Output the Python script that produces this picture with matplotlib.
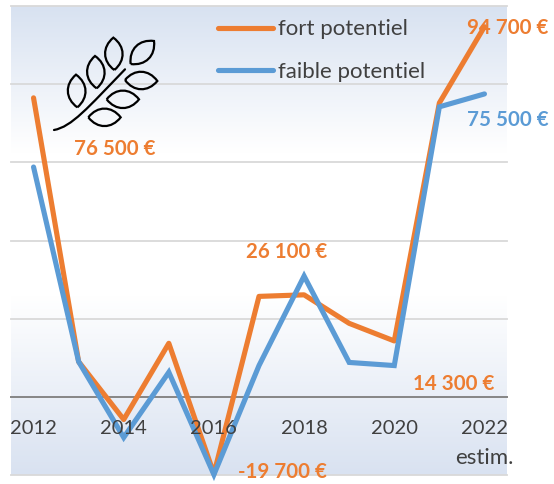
import numpy as np
import matplotlib
matplotlib.use("Agg")
import matplotlib.pyplot as plt
from matplotlib.path import Path
from matplotlib.patches import PathPatch
from matplotlib.colors import LinearSegmentedColormap

plt.rcParams['font.family'] = ['Lato', 'DejaVu Sans']

years = [2012, 2013, 2014, 2015, 2016, 2017, 2018, 2019, 2020, 2021, 2022]
fort_potentiel = [76500, 9000, -5800, 13700, -19700, 25700, 26100, 18800, 14300, 75200, 94700]
faible_potentiel = [58800, 9000, -10400, 6300, -19900, 8000, 30900, 8800, 8000, 74200, 77500]
tick_years = [2012, 2014, 2016, 2018, 2020, 2022]
tick_labels = ['2012', '2014', '2016', '2018', '2020', '2022']
y_ticks = [-20000, 0, 20000, 40000, 60000, 80000, 100000]
series_names = ['fort potentiel', 'faible potentiel']

ORANGE = '#ED7D31'
BLUE = '#5B9BD5'
W, H = 554, 484
L, R, T, B = 11, 507, 6, 475
BOLD = dict(fontweight='bold', fontsize=14.8, ha='center', va='center', annotation_clip=False)

fig = plt.figure(figsize=(W / 100, H / 100), dpi=100)
ax = fig.add_axes([L / W, 1 - B / H, (R - L) / W, (B - T) / H])

# background gradient
cmap = LinearSegmentedColormap.from_list('bg', [
    (0.0, '#D8E2F1'), (0.31, '#FFFFFF'), (0.62, '#FFFFFF'), (1.0, '#D9E2F1')])
grad = np.linspace(0, 1, 256).reshape(-1, 1)
ax.imshow(grad, cmap=cmap, aspect='auto', extent=(0, 1, 0, 1),
          transform=ax.transAxes, zorder=0, origin='upper')
ax.set_xlim(2011.5, 2022.5)
ax.set_ylim(-20000, 100000)

for s in ['top', 'left', 'right']:
    ax.spines[s].set_visible(False)
ax.spines['bottom'].set_position(('data', 0))
ax.spines['bottom'].set_color('#868686')
ax.spines['bottom'].set_linewidth(1.4)
ax.spines['bottom'].set_zorder(1.5)

ax.set_yticks(y_ticks)
ax.tick_params(axis='y', length=0, labelleft=False)
ax.grid(axis='y', color='#D9D9D9', lw=1.3, clip_on=False)
ax.set_axisbelow(True)
ax.set_xticks(tick_years, tick_labels)
ax.tick_params(axis='x', length=0, pad=17, labelsize=14.5, labelcolor='#404040')
ax.xaxis.set_zorder(6)   # year labels sit on top of the lines
ax.annotate('estim.', (2022, 0), xytext=(0, -61), textcoords='offset pixels', color='#404040',
            fontsize=16, ha='center', va='center', zorder=6, annotation_clip=False)

# label hidden partly under the line
ax.annotate('94 700 €', (2022, 94700), xytext=(23, -1.5), textcoords='offset pixels',
            color=ORANGE, zorder=2, **BOLD)

l1, = ax.plot(years, fort_potentiel, color=ORANGE, lw=3.7, zorder=3,
              solid_capstyle='round', solid_joinstyle='round', label=series_names[0], clip_on=False)
l2, = ax.plot(years, faible_potentiel, color=BLUE, lw=3.7, zorder=4,
              solid_capstyle='round', solid_joinstyle='miter', label=series_names[1], clip_on=False)

labels = [
    ('76 500 €', 2012, fort_potentiel[0], 81, -51, ORANGE),
    ('26 100 €', 2018, fort_potentiel[6], -17, 43, ORANGE),
    ('-19 700 €', 2016, fort_potentiel[4], 69, 2, ORANGE),
    ('14 300 €', 2020, fort_potentiel[8], 59, -43, ORANGE),
    ('75 500 €', 2022, faible_potentiel[10], 23, -26, BLUE),
]
for txt, x, y, dx, dy, c in labels:
    ax.annotate(txt, (x, y), xytext=(dx, dy), textcoords='offset pixels', color=c, zorder=5, **BOLD)

leg = ax.legend(handles=[l1, l2], loc='upper left', bbox_to_anchor=((209 - L) / (R - L), 1 - (10.5 - T) / (B - T)),
                frameon=False, fontsize=16, labelcolor='#404040', handlelength=2.48,
                handletextpad=0.22, labelspacing=1.0, borderaxespad=0, borderpad=0.4)
for line in leg.get_lines():
    line.set_linewidth(3.7)

# wheat icon drawn in reference pixel space
icon = fig.add_axes([0, 0, 1, 1], zorder=10)
icon.set_xlim(0, W)
icon.set_ylim(H, 0)
icon.axis('off')
icon.patch.set_alpha(0)

def leaf(p, q, bulge=1.0):
    p, q = np.array(p, float) / 3, np.array(q, float) / 3
    d = q - p
    n = np.array([-d[1], d[0]])
    c1a, c1b = p + 0.28 * d + 0.36 * bulge * n, p + 0.72 * d + 0.36 * bulge * n
    c2a, c2b = p + 0.72 * d - 0.36 * bulge * n, p + 0.28 * d - 0.36 * bulge * n
    verts = [p, c1a, c1b, q, c2a, c2b, p]
    codes = [Path.MOVETO] + [Path.CURVE4] * 6
    icon.add_patch(PathPatch(Path(verts, codes), fc='none', ec='black', lw=1.6, joinstyle='miter'))

leaf((232, 322), (228, 224))
leaf((290, 265), (285, 168))
leaf((343, 210), (340, 113))
leaf((392, 192), (462, 123))
leaf((375, 240), (472, 243))
leaf((320, 298), (417, 298))
leaf((265, 352), (362, 352))
stem = Path(np.array([(162, 390), (215, 380), (262, 325), (375, 208)]) / 3,
            [Path.MOVETO, Path.CURVE4, Path.CURVE4, Path.CURVE4])
icon.add_patch(PathPatch(stem, fc='none', ec='black', lw=1.6, capstyle='round'))

fig.savefig('out.png', dpi=100)
